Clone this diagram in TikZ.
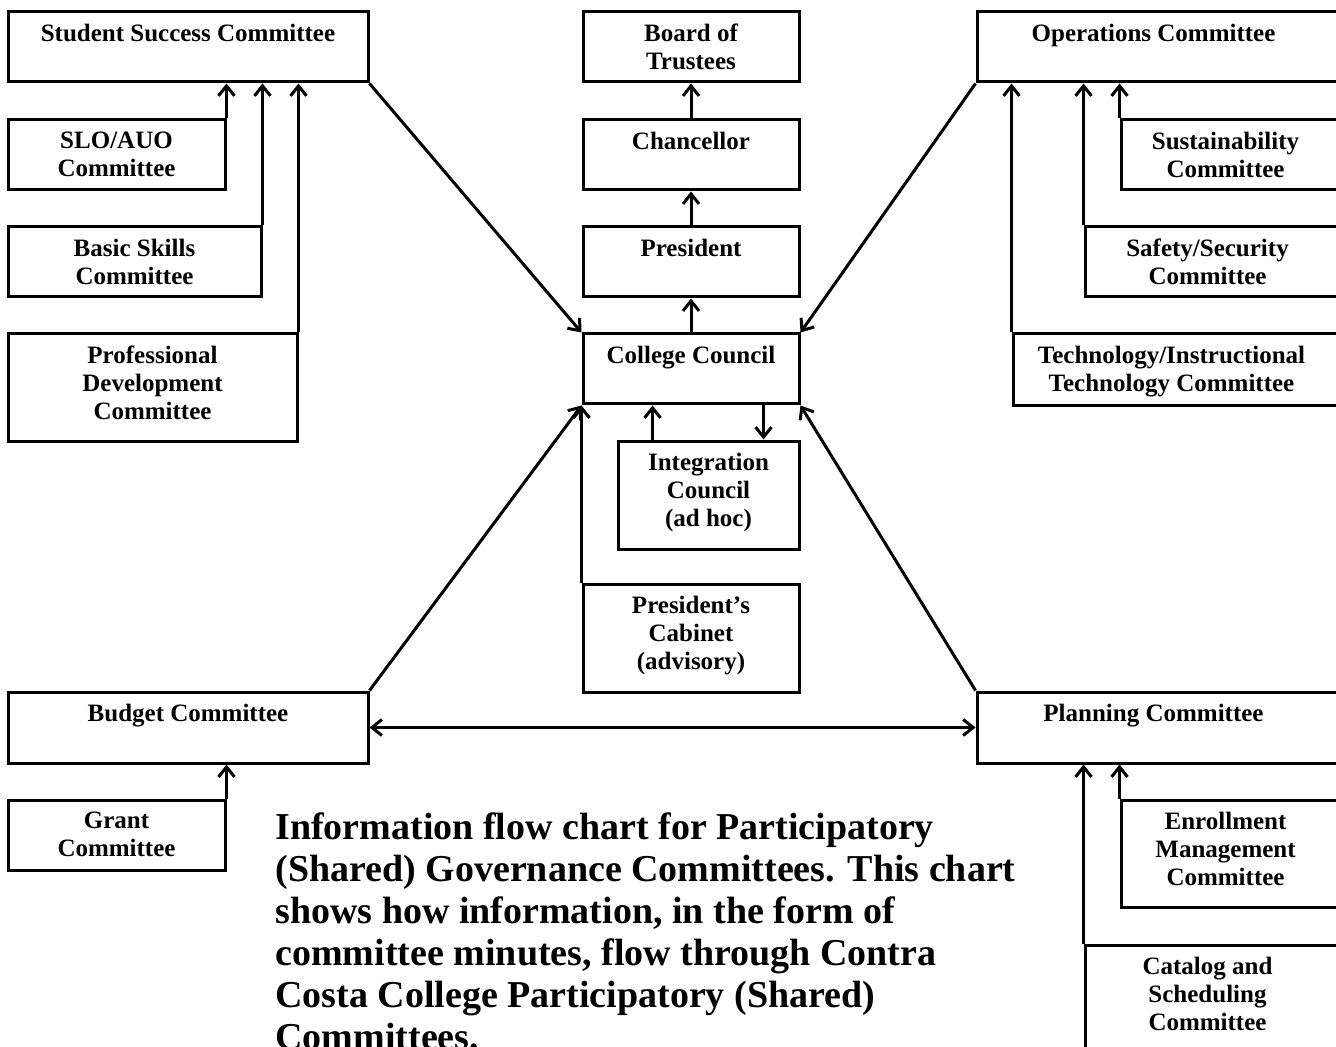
\documentclass[tikz,border=0pt]{standalone}
\usepackage{fontspec}
\setmainfont{Liberation Serif}
\usetikzlibrary{arrows.meta,positioning,fit}

\begin{document}
\begin{tikzpicture}[
  x=0.5pt, y=-0.5pt,
  box/.style={draw, line width=1.5pt, inner sep=0pt},
  txt/.style={anchor=north, align=center, inner sep=0pt, yshift=-6.5pt, font=\bfseries\fontsize{12.5}{14}\selectfont},
  edg/.style={-{Straight Barb[length=5pt,width=8pt]}, line width=1.5pt},
  edgb/.style={{Straight Barb[length=5pt,width=8pt]}-{Straight Barb[length=5pt,width=8pt]}, line width=1.5pt}
]
\useasboundingbox (0,0) rectangle (1336,1047);
% left column
\node[box, fit={(8,12) (368,82)}] (ssc) {};
\node[txt] (ssc-t) at (ssc.north) {Student Success Committee};
\node[box, fit={(8,120) (225,190)}] (slo) {};
\node[txt] (slo-t) at (slo.north) {SLO/AUO\\Committee};
\node[box, fit={(8,227) (261,297)}] (bsk) {};
\node[txt] (bsk-t) at (bsk.north) {Basic Skills\\Committee};
\node[box, fit={(8,334) (297,441)}] (pdc) {};
\node[txt] (pdc-t) at (pdc.north) {Professional\\Development\\Committee};
\node[box, fit={(8,692) (368,763)}] (bud) {};
\node[txt] (bud-t) at (bud.north) {Budget Committee};
\node[box, fit={(8,800) (225,870)}] (grant) {};
\node[txt] (grant-t) at (grant.north) {Grant\\Committee};
% middle column
\node[box, fit={(583,12) (799,82)}] (bot) {};
\node[txt] (bot-t) at (bot.north) {Board of\\Trustees};
\node[box, fit={(583,120) (799,190)}] (chan) {};
\node[txt] (chan-t) at (chan.north) {Chancellor};
\node[box, fit={(583,227) (799,297)}] (pres) {};
\node[txt] (pres-t) at (pres.north) {President};
\node[box, fit={(583,334) (799,404)}] (cc) {};
\node[txt] (cc-t) at (cc.north) {College Council};
\node[box, fit={(618,441) (799,549)}] (ic) {};
\node[txt] (ic-t) at (ic.north) {Integration\\Council\\(ad hoc)};
\node[box, fit={(583,584) (799,692)}] (cab) {};
\node[txt] (cab-t) at (cab.north) {President's\\Cabinet\\(advisory)};
% right column
\node[box, fit={(977,12) (1342,82)}] (ops) {};
\node[txt] (ops-t) at ([xshift=-3pt]ops.north) {Operations Committee};
\node[box, fit={(1121,120) (1342,190)}] (sust) {};
\node[txt] (sust-t) at ([xshift=-3pt]sust.north) {Sustainability\\Committee};
\node[box, fit={(1085,227) (1342,297)}] (safe) {};
\node[txt] (safe-t) at ([xshift=-3pt]safe.north) {Safety/Security\\Committee};
\node[box, fit={(1013,334) (1342,406)}] (tech) {};
\node[txt] (tech-t) at ([xshift=-3pt]tech.north) {Technology/Instructional\\Technology Committee};
\node[box, fit={(977,692) (1342,763)}] (plan) {};
\node[txt] (plan-t) at ([xshift=-3pt]plan.north) {Planning Committee};
\node[box, fit={(1121,800) (1342,907)}] (enr) {};
\node[txt] (enr-t) at ([xshift=-3pt]enr.north) {Enrollment\\Management\\Committee};
\node[box, fit={(1085,945) (1342,1080)}] (cat) {};
\node[txt] (cat-t) at ([xshift=-3pt]cat.north) {Catalog and\\Scheduling\\Committee};
% caption
\node[anchor=north west, align=left, inner sep=0pt, font=\bfseries\fontsize{19}{21}\selectfont] (cap) at (275,812)
  {Information flow chart for Participatory\\(Shared) Governance Committees. This chart\\shows how information, in the form of\\committee minutes, flow through Contra\\Costa College Participatory (Shared)\\Committees.};
% edges
\draw[edg] (slo.north east) -- (slo.north east |- ssc.south);
\draw[edg] (bsk.north east) -- (bsk.north east |- ssc.south);
\draw[edg] (pdc.north east) -- (pdc.north east |- ssc.south);
\draw[edg] (grant.north east) -- (grant.north east |- bud.south);
\draw[edg] (ssc.south east) -- (cc.north west);
\draw[edg] (ops.south west) -- (cc.north east);
\draw[edg] (bud.north east) -- (cc.south west);
\draw[edg] (plan.north west) -- (cc.south east);
\draw[edgb] (bud.east) -- (plan.west);
\draw[edg] (cc) -- (pres);
\draw[edg] (pres) -- (chan);
\draw[edg] (chan) -- (bot);
\draw[edg] ([xshift=18pt]ic.north west) -- ([xshift=18pt]ic.north west |- cc.south);
\draw[edg] ([xshift=-18.5pt]ic.north east |- cc.south) -- ([xshift=-18.5pt]ic.north east);
\draw[edg] (cab.north west) -- (cc.south west);
\draw[edg] (sust.north west) -- (sust.north west |- ops.south);
\draw[edg] (safe.north west) -- (safe.north west |- ops.south);
\draw[edg] (tech.north west) -- (tech.north west |- ops.south);
\draw[edg] (enr.north west) -- (enr.north west |- plan.south);
\draw[edg] (cat.north west) -- (cat.north west |- plan.south);
\end{tikzpicture}
\end{document}
